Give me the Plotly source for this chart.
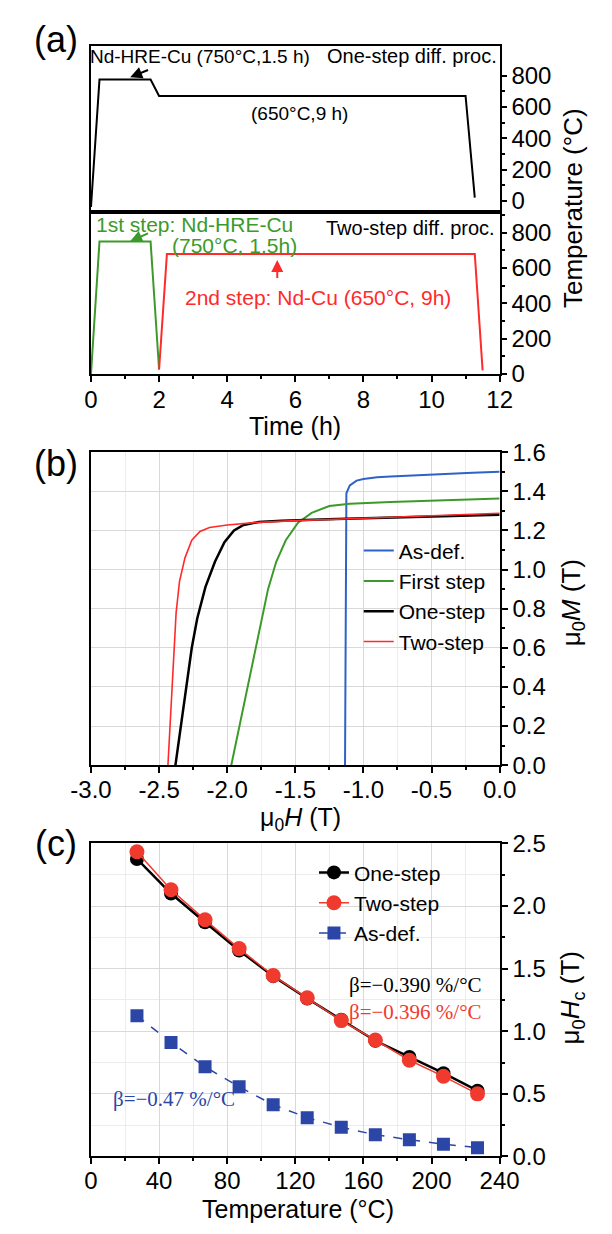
import plotly.graph_objects as go

W, H = 612, 1234
def px(x): return x / W
def py(y): return 1 - y / H

# ---------------- Panel (a) data ----------------
one_step_t = [0, 0.25, 1.75, 2.0, 11.0, 11.27]
one_step_T = [-40, 775, 775, 670, 670, 20]
first_step_t = [0, 0.25, 1.75, 2.0]
first_step_T = [0, 750, 750, 25]
second_step_t = [2.0, 2.23, 11.27, 11.5]
second_step_T = [25, 680, 680, 20]
time_ticks = [0, 2, 4, 6, 8, 10, 12]
temp_ticks = [0, 200, 400, 600, 800]

# ---------------- Panel (b) data ----------------
asdef_H = [-1.135, -1.133, -1.131, -1.129, -1.125, -1.10, -1.05, -1.0, -0.9, -0.8, -0.6, -0.4, -0.2, 0.0]
asdef_M = [0.0, 0.4, 0.8, 1.1, 1.39, 1.43, 1.455, 1.463, 1.472, 1.476, 1.483, 1.49, 1.495, 1.50]
first_H = [-1.97, -1.91, -1.85, -1.79, -1.75, -1.70, -1.64, -1.57, -1.48, -1.38, -1.25, -1.10, -0.8, -0.4, 0.0]
first_M = [0.0, 0.2, 0.4, 0.6, 0.75, 0.9, 1.04, 1.15, 1.24, 1.29, 1.325, 1.337, 1.345, 1.355, 1.363]
one_H = [-2.38, -2.34, -2.30, -2.26, -2.22, -2.16, -2.09, -2.02, -1.95, -1.88, -1.77, -1.6, -1.2, -0.8, -0.4, 0.0]
one_M = [0.0, 0.2, 0.4, 0.6, 0.75, 0.91, 1.04, 1.14, 1.2, 1.228, 1.243, 1.25, 1.258, 1.265, 1.272, 1.28]
two_H = [-2.435, -2.42, -2.405, -2.39, -2.375, -2.35, -2.31, -2.26, -2.2, -2.13, -2.0, -1.8, -1.5, -1.0, -0.5, 0.0]
two_M = [0.0, 0.2, 0.4, 0.6, 0.78, 0.94, 1.06, 1.15, 1.195, 1.215, 1.228, 1.24, 1.25, 1.262, 1.275, 1.288]
H_tickvals = [-3.0, -2.5, -2.0, -1.5, -1.0, -0.5, 0.0]
H_ticktext = ["-3.0", "-2.5", "-2.0", "-1.5", "-1.0", "-0.5", "0.0"]

# ---------------- Panel (c) data ----------------
temp_c = [27, 47, 67, 87, 107, 127, 147, 167, 187, 207, 227]
hc_one = [2.376, 2.10, 1.87, 1.645, 1.44, 1.262, 1.092, 0.924, 0.795, 0.665, 0.525]
hc_two = [2.434, 2.13, 1.89, 1.66, 1.445, 1.268, 1.085, 0.93, 0.768, 0.64, 0.50]
hc_asdef = [1.124, 0.91, 0.716, 0.556, 0.413, 0.31, 0.233, 0.173, 0.134, 0.098, 0.07]

GREEN = "#3c9a2a"
RED = "#ff2a2a"
BLUE_B = "#2f62c8"
BLUE_C = "#2b46a6"
RED_C = "#f03a2e"
FONT = "Liberation Sans, Arial, sans-serif"
SERIF = "Liberation Serif, Times New Roman, serif"
TICKF = dict(family=FONT, size=24, color="black")

XL, XR = 75, 513
fig = go.Figure()

# Panel (a)
fig.add_trace(go.Scatter(x=one_step_t, y=one_step_T, mode="lines", line=dict(color="black", width=2),
                         xaxis="x2", yaxis="y", showlegend=False))
fig.add_trace(go.Scatter(x=first_step_t, y=first_step_T, mode="lines", line=dict(color=GREEN, width=2),
                         xaxis="x", yaxis="y2", showlegend=False))
fig.add_trace(go.Scatter(x=second_step_t, y=second_step_T, mode="lines", line=dict(color=RED, width=2),
                         xaxis="x", yaxis="y2", showlegend=False))

# Panel (b)
for name, hx, my, col, w in [("As-def.", asdef_H, asdef_M, BLUE_B, 2),
                              ("First step", first_H, first_M, GREEN, 2),
                              ("One-step", one_H, one_M, "black", 2.5),
                              ("Two-step", two_H, two_M, RED, 1.6)]:
    fig.add_trace(go.Scatter(x=hx, y=my, mode="lines", name=name, line=dict(color=col, width=w),
                             xaxis="x3", yaxis="y3", legend="legend", legendgroup=name))

# Panel (c)
fig.add_trace(go.Scatter(x=temp_c, y=hc_one, mode="lines+markers", name="One-step",
                         line=dict(color="black", width=2.5), marker=dict(color="black", size=14, symbol="circle"),
                         xaxis="x4", yaxis="y4", legend="legend2"))
fig.add_trace(go.Scatter(x=temp_c, y=hc_two, mode="lines+markers", name="Two-step",
                         line=dict(color=RED_C, width=1.5), marker=dict(color=RED_C, size=15, symbol="circle"),
                         xaxis="x4", yaxis="y4", legend="legend2"))
fig.add_trace(go.Scatter(x=temp_c, y=hc_asdef, mode="lines+markers", name="As-def.",
                         line=dict(color=BLUE_C, width=1.5, dash="dash"),
                         marker=dict(color=BLUE_C, size=13, symbol="square"),
                         xaxis="x4", yaxis="y4", legend="legend2"))

axis_common = dict(showline=True, linecolor="black", linewidth=2, mirror=True, zeroline=False,
                   tickfont=TICKF, tickcolor="black", tickwidth=1.5)

fig.update_layout(
    width=W, height=H, margin=dict(l=0, r=0, t=0, b=0),
    paper_bgcolor="white", plot_bgcolor="white",
    # panel a bottom
    xaxis=dict(domain=[px(XL), px(XR)], anchor="y2", range=[0, 12], tickvals=time_ticks,
               ticks="outside", ticklen=6, showgrid=False, ticklabelstandoff=-3,
               minor=dict(dtick=1, ticks="outside", ticklen=3, tickcolor="black", showgrid=False),
               **axis_common),
    yaxis2=dict(domain=[py(368), py(202)], anchor="x", side="right", range=[0, 920], tickvals=temp_ticks,
                ticks="outside", ticklen=5, showgrid=False,
                minor=dict(dtick=100, ticks="outside", ticklen=3, tickcolor="black", showgrid=False),
                **axis_common),
    # panel a top
    xaxis2=dict(domain=[px(XL), px(XR)], anchor="y", range=[0, 12], showticklabels=False, ticks="",
                showgrid=False, **axis_common),
    yaxis=dict(domain=[py(202), py(33)], anchor="x2", side="right", range=[-69, 988], tickvals=temp_ticks,
               ticks="outside", ticklen=5, showgrid=False,
               minor=dict(tickvals=[100, 300, 500, 700], ticks="outside", ticklen=3, tickcolor="black", showgrid=False),
               **axis_common),
    # panel b
    xaxis3=dict(domain=[px(XL), px(XR)], anchor="y3", range=[-3, 0], tickvals=H_tickvals, ticktext=H_ticktext,
                ticks="outside", ticklen=6, showgrid=True, gridcolor="#d9d9d9", gridwidth=1, ticklabelstandoff=-4,
                minor=dict(dtick=0.25, ticks="outside", ticklen=3, tickcolor="black", showgrid=True,
                           gridcolor="#ececec"),
                **axis_common),
    yaxis3=dict(domain=[py(768), py(448)], anchor="x3", side="right", range=[0, 1.6], dtick=0.2,
                tickformat=".1f", ticks="outside", ticklen=6, showgrid=True, gridcolor="#d9d9d9",
                minor=dict(dtick=0.1, ticks="outside", ticklen=3, tickcolor="black", showgrid=False),
                **axis_common),
    # panel c
    xaxis4=dict(domain=[px(XL), px(XR)], anchor="y4", range=[0, 240], dtick=40, ticklabelstandoff=-4,
                ticks="outside", ticklen=6, showgrid=True, gridcolor="#d9d9d9",
                minor=dict(dtick=20, ticks="outside", ticklen=3, tickcolor="black", showgrid=True,
                           gridcolor="#ececec"),
                **axis_common),
    yaxis4=dict(domain=[py(1168), py(848)], anchor="x4", side="right", range=[0, 2.5], dtick=0.5,
                tickformat=".1f", ticks="outside", ticklen=6, showgrid=True, gridcolor="#d9d9d9",
                minor=dict(dtick=0.25, ticks="outside", ticklen=3, tickcolor="black", showgrid=True,
                           gridcolor="#ececec"),
                **axis_common),
    legend=dict(x=px(362), y=py(528), xanchor="left", yanchor="top", bgcolor="rgba(0,0,0,0)",
                font=dict(family=FONT, size=21, color="black"), tracegroupgap=13, traceorder="normal"),
    legend2=dict(x=px(314), y=py(857), xanchor="left", yanchor="top", bgcolor="rgba(0,0,0,0)",
                 font=dict(family=FONT, size=21, color="black"), tracegroupgap=0, traceorder="normal"),
)

ann = []
def text(x, y, s, size, color="black", xanchor="center", family=FONT, xref="paper", yref="paper", angle=0, xshift=0):
    ann.append(dict(x=x, y=y, text=s, showarrow=False, xanchor=xanchor, yanchor="middle",
                    xref=xref, yref=yref, textangle=angle, xshift=xshift,
                    font=dict(family=family, size=size, color=color)))

# panel labels
text(px(38), py(26), "(a)", 36)
text(px(38), py(460), "(b)", 36)
text(px(38), py(848), "(c)", 36)

# axis titles
text(px(294), py(421), "Time (h)", 25)
text(px(300), py(823), "μ<sub>0</sub><i>H</i> (T)", 25)
text(px(297), py(1222), "Temperature (°C)", 25)
text(px(591), py(198), "Temperature (°C)", 26, angle=-90)
text(px(591), py(602), "μ<sub>0</sub><i>M</i> (T)", 26, angle=-90)
text(px(591), py(1006), "μ<sub>0</sub><i>H</i><sub>c</sub> (T)", 26, angle=-90)

# panel (a) annotations
text(0.0, 925, "Nd-HRE-Cu (750°C,1.5 h)", 19, xanchor="left", xref="x2", yref="y", xshift=-3)
text(11.97, 925, "One-step diff. proc.", 20, xanchor="right", xref="x2", yref="y")
text(6.12, 556, "(650°C,9 h)", 19, xref="x2", yref="y")
text(0.08, 848, "1st step: Nd-HRE-Cu", 21, color=GREEN, xanchor="left", xref="x", yref="y2")
text(4.2, 728, "(750°C, 1.5h)", 21, color=GREEN, xref="x", yref="y2")
text(11.93, 826, "Two-step diff. proc.", 20, xanchor="right", xref="x", yref="y2")
text(6.68, 432, "2nd step: Nd-Cu (650°C, 9h)", 21, color=RED, xref="x", yref="y2")

ann.append(dict(x=1.15, y=790, ax=1.72, ay=840, xref="x2", yref="y", axref="x2", ayref="y",
                showarrow=True, arrowhead=2, arrowsize=1.2, arrowwidth=2, arrowcolor="black", text=""))
ann.append(dict(x=1.15, y=752, ax=1.72, ay=800, xref="x", yref="y2", axref="x", ayref="y2",
                showarrow=True, arrowhead=2, arrowsize=1.2, arrowwidth=2, arrowcolor=GREEN, text=""))
ann.append(dict(x=5.47, y=645, ax=5.47, ay=535, xref="x", yref="y2", axref="x", ayref="y2",
                showarrow=True, arrowhead=2, arrowsize=1.2, arrowwidth=2, arrowcolor=RED, text=""))

# panel (c) annotations
text(231, 1.37, "β=−0.390 %/°C", 21, xanchor="right", family=SERIF, xref="x4", yref="y4")
text(231, 1.15, "β=−0.396 %/°C", 21, color=RED_C, xanchor="right", family=SERIF, xref="x4", yref="y4")
text(12, 0.46, "β=−0.47 %/°C", 21, color=BLUE_C, xanchor="left", family=SERIF, xref="x4", yref="y4")

fig.update_layout(annotations=ann)
fig.write_html("out.html", config={"displayModeBar": False},
               post_script="document.body.style.margin='0';document.body.style.overflow='hidden';")
